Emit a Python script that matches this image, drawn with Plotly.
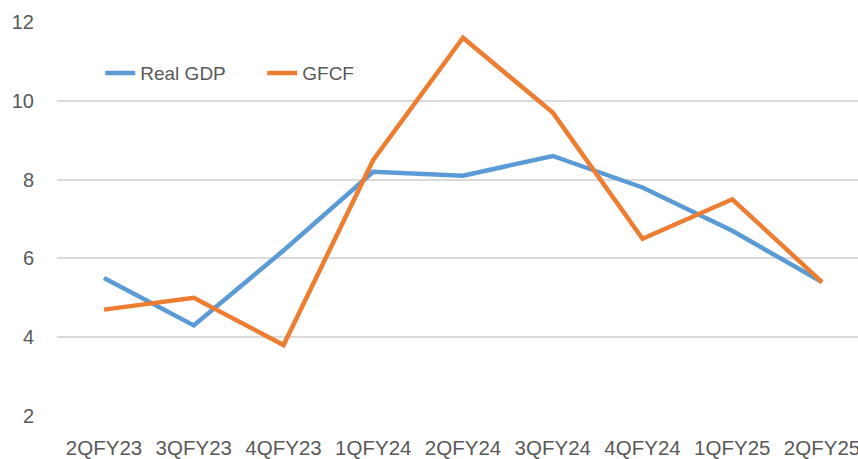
import plotly.graph_objects as go

quarters = ["2QFY23", "3QFY23", "4QFY23", "1QFY24", "2QFY24", "3QFY24", "4QFY24", "1QFY25", "2QFY25"]
real_gdp = [5.5, 4.3, 6.2, 8.2, 8.1, 8.6, 7.8, 6.7, 5.4]
gfcf = [4.7, 5.0, 3.8, 8.5, 11.6, 9.7, 6.5, 7.5, 5.4]
y_ticks = [2, 4, 6, 8, 10, 12]

FONT = "Liberation Sans, Arial, sans-serif"
TXT = "#595959"

fig = go.Figure()
fig.add_trace(go.Scatter(x=quarters, y=real_gdp, mode="lines", name="Real GDP",
                         line=dict(color="#5B9BD5", width=4.5)))
fig.add_trace(go.Scatter(x=quarters, y=gfcf, mode="lines", name="GFCF",
                         line=dict(color="#ED7D31", width=4.5)))

fig.update_layout(
    width=858, height=459,
    margin=dict(l=57, r=0, t=22, b=43, autoexpand=False),
    paper_bgcolor="white", plot_bgcolor="white",
    font=dict(family=FONT, color=TXT, size=20),
    showlegend=True,
    legend=dict(orientation="h", x=0.054, y=0.87, xanchor="left", yanchor="middle",
                font=dict(size=19, color=TXT), bgcolor="rgba(0,0,0,0)",
                entrywidth=117, entrywidthmode="pixels", traceorder="normal"),
    xaxis=dict(type="category", range=[-0.524, 8.401], showgrid=False, showline=False,
               zeroline=False, ticks="", tickfont=dict(size=20.5, color=TXT),
               ticklabelstandoff=17, automargin=False, fixedrange=True),
    yaxis=dict(range=[2, 12], tickvals=y_ticks, showgrid=True, gridcolor="#D9D9D9",
               gridwidth=1.5, zeroline=False, showline=False, ticks="",
               tickfont=dict(size=20, color=TXT), ticklabelstandoff=22, automargin=False),
)

fig.write_html(
    "out.html",
    config={"displayModeBar": False},
    post_script="document.body.style.margin='0';document.body.style.overflow='hidden';",
)
